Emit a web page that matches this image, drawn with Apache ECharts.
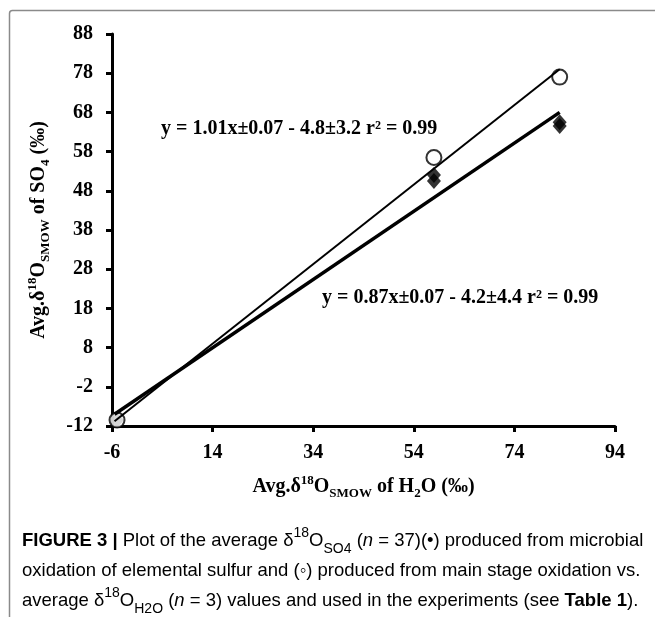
<!DOCTYPE html>
<html lang="en">
<head>
    <meta charset="UTF-8">
    <title>figure 3</title>
    <script src="https://cdn.jsdelivr.net/npm/echarts@6/dist/echarts.min.js"></script>
</head>
<body style="margin:0;background:#fff">
<div id="main" style="width: 655px;height:617px;"></div>
<script>
    // data
    const xTicks = [-6, 14, 34, 54, 74, 94];
    const yTicks = [-12, -2, 8, 18, 28, 38, 48, 58, 68, 78, 88];
    const openPoints = [[-5, -10.5], [58, 56.5], [83, 77]];
    const filledPoints = [[-5, -10.5], [58, 52], [58, 50.5], [83, 65.5], [83, 64.5]];
    const fitOpen = [[-5.5, -10.8], [83, 79]];
    const fitFilled = [[-5.5, -9], [83, 68]];
    const eqOpen = 'y = 1.01x±0.07 - 4.8±3.2 r² = 0.99';
    const eqFilled = 'y = 0.87x±0.07 - 4.2±4.4 r² = 0.99';

    const serif = '"Liberation Serif", "Times New Roman", serif';
    const sans = '"Liberation Sans", Arial, sans-serif';

    const myChart = echarts.init(document.getElementById('main'));

    const titleRich = {
        t: {fontFamily: serif, fontWeight: 'bold', fontSize: 20, lineHeight: 26, color: '#000', verticalAlign: 'middle'},
        sup: {fontFamily: serif, fontWeight: 'bold', fontSize: 13, lineHeight: 16, color: '#000', verticalAlign: 'top'},
        sub: {fontFamily: serif, fontWeight: 'bold', fontSize: 13, lineHeight: 14, color: '#000', verticalAlign: 'bottom'}
    };
    const cs = 18.5;
    const capRich = {
        n: {fontFamily: sans, fontSize: cs, lineHeight: 30, color: '#222', verticalAlign: 'middle'},
        b: {fontFamily: sans, fontWeight: 'bold', fontSize: cs, lineHeight: 30, color: '#222', verticalAlign: 'middle'},
        i: {fontFamily: sans, fontStyle: 'italic', fontSize: cs, lineHeight: 30, color: '#222', verticalAlign: 'middle'},
        sup: {fontFamily: sans, fontSize: 14, lineHeight: 19, color: '#222', verticalAlign: 'top'},
        sub: {fontFamily: sans, fontSize: 14, lineHeight: 19, color: '#222', verticalAlign: 'bottom'}
    };

    const axisCommon = {
        type: 'value',
        axisLine: {onZero: false, lineStyle: {color: '#000', width: 3}},
        axisTick: {show: true, length: 6, lineStyle: {color: '#000', width: 3}},
        splitLine: {show: false},
        axisLabel: {fontFamily: serif, fontWeight: 'bold', fontSize: 20, color: '#000'}
    };

    option = {
        animation: false,
        backgroundColor: '#fff',
        grid: {left: 112, right: 40, top: 34, bottom: 191},
        xAxis: Object.assign({}, axisCommon, {
            min: xTicks[0], max: xTicks[xTicks.length - 1], interval: 20,
            name: '{t|Avg.δ}{sup|18}{t|O}{sub|SMOW}{t| of H}{sub|2}{t|O (‰)}',
            nameLocation: 'middle', nameGap: 48,
            nameTextStyle: {rich: titleRich},
            axisLabel: Object.assign({}, axisCommon.axisLabel, {margin: 17})
        }),
        yAxis: Object.assign({}, axisCommon, {
            min: yTicks[0], max: yTicks[yTicks.length - 1], interval: 10,
            name: '{t|Avg.δ}{sup|18}{t|O}{sub|SMOW}{t| of SO}{sub|4}{t| (‰)}',
            nameLocation: 'middle', nameGap: 60, nameRotate: 90,
            nameTextStyle: {rich: titleRich},
            axisLabel: Object.assign({}, axisCommon.axisLabel, {margin: 19})
        }),
        series: [{
            type: 'line', data: fitOpen, showSymbol: false, silent: true,
            lineStyle: {color: '#000', width: 2}
        }, {
            type: 'line', data: fitFilled, showSymbol: false, silent: true,
            lineStyle: {color: '#000', width: 3.5}
        }, {
            type: 'scatter', data: filledPoints, symbol: 'diamond', symbolSize: [14, 16],
            itemStyle: {color: '#000'}
        }, {
            type: 'scatter', data: openPoints, symbol: 'circle', symbolSize: 15,
            itemStyle: {color: '#fff', borderColor: '#000', borderWidth: 2}
        }],
        graphic: [{
            type: 'rect', left: 7, top: 8, silent: true,
            shape: {width: 720, height: 700, r: 3},
            style: {fill: 'none', stroke: '#8a8a8a', lineWidth: 1.5}
        }, {
            type: 'text', left: 161, top: 119,
            style: {text: eqOpen, font: 'bold 20px ' + serif, fill: '#000'}
        }, {
            type: 'text', left: 322, top: 288,
            style: {text: eqFilled, font: 'bold 20px ' + serif, fill: '#000'}
        }, {
            type: 'text', left: 22, top: 526,
            style: {
                text: '{b|FIGURE 3 |}{n| Plot of the average δ}{sup|18}{n|O}{sub|SO4}{n| (}{i|n}{n| = 37)(•) produced from microbial}\n' +
                    '{n|oxidation of elemental sulfur and (◦) produced from main stage oxidation vs.}\n' +
                    '{n|average δ}{sup|18}{n|O}{sub|H2O}{n| (}{i|n}{n| = 3) values and used in the experiments (see }{b|Table 1}{n|).}',
                rich: capRich
            }
        }]
    };
    myChart.setOption(option);
</script>
</body>
</html>
